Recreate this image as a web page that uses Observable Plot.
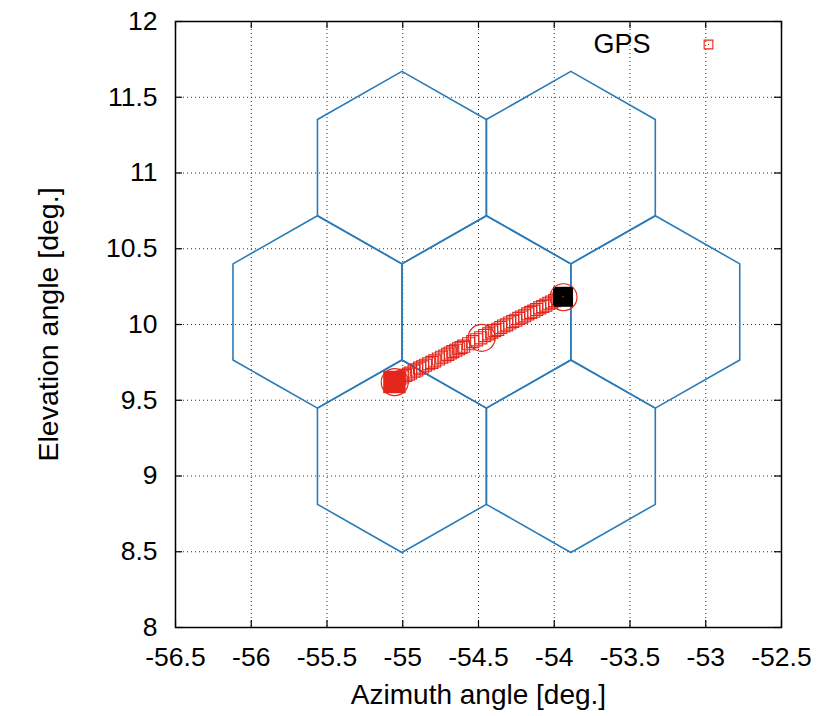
<!DOCTYPE html>
<html><head><meta charset="utf-8">
<script src="https://cdn.jsdelivr.net/npm/d3@7"></script>
<script src="https://cdn.jsdelivr.net/npm/@observablehq/plot@0.6"></script>
<style>body{margin:0;background:#fff} svg{display:block}</style>
</head><body><div id="chart"></div>
<script>
// ticks
const xTicks = [-56.5,-56,-55.5,-55,-54.5,-54,-53.5,-53,-52.5];
const yTicks = [8,8.5,9,9.5,10,10.5,11,11.5,12];

// hexagonal beam cells (centres, deg.)
const hexAz = [-54.448, -55.0055, -53.8905, -55.563, -53.333, -55.0055, -53.8905];
const hexEl = [10.083, 11.0355, 11.0355, 10.083, 10.083, 9.1305, 9.1305];
const hexHalfWidth = 0.5575;
const hexRadius = 0.635;

// GPS track
const gpsAz = [-55.040,-55.020,-55.000,-54.981,-54.962,-54.948,-54.925,-54.908,-54.889,-54.869,-54.850,-54.829,-54.808,-54.789,-54.765,-54.743,-54.722,-54.703,-54.686,-54.670,-54.650,-54.631,-54.615,-54.598,-54.565,-54.538,-54.512,-54.485,-54.459,-54.433,-54.413,-54.393,-54.373,-54.353,-54.334,-54.314,-54.294,-54.274,-54.254,-54.234,-54.215,-54.195,-54.175,-54.155,-54.135,-54.116,-54.096,-54.076,-54.056,-54.036,-54.017,-53.997,-53.975];
const gpsEl = [9.634,9.642,9.654,9.664,9.672,9.680,9.692,9.700,9.712,9.720,9.731,9.741,9.750,9.760,9.772,9.784,9.792,9.803,9.812,9.821,9.830,9.840,9.848,9.857,9.873,9.887,9.899,9.912,9.927,9.938,9.950,9.960,9.968,9.980,9.990,9.998,10.010,10.020,10.028,10.040,10.049,10.058,10.070,10.080,10.088,10.099,10.110,10.119,10.128,10.140,10.148,10.158,10.170];
const startAz = [-55.055], startEl = [9.620];
const endAz = [-53.942], endEl = [10.183];
const ringAz = [-55.053, -54.479, -53.939];
const ringEl = [9.619, 9.912, 10.180];

const legendLabel = ["GPS"];
const xLabel = ["Azimuth angle [deg.]"];
const yLabel = ["Elevation angle [deg.]"];

const red = "#e3261c", blue = "#2a7bb8";
const font = "'Liberation Sans', Arial, Helvetica, sans-serif";

// hex outlines built from centres
const vx = [0, 1, 1, 0, -1, -1, 0];
const vy = [1, 0.5, -0.5, -1, -0.5, 0.5, 1];
const hexPts = [];
hexAz.forEach((cx, i) => {
  vx.forEach((m, k) => hexPts.push({hex: i, x: cx + m * hexHalfWidth, y: hexEl[i] + vy[k] * hexRadius}));
});
const gps = gpsAz.map((x, i) => ({x, y: gpsEl[i]}));
const rings = ringAz.map((x, i) => ({x, y: ringEl[i]}));

const W = 840, H = 716, mL = 175, mR = 59, mT = 21, mB = 89;
const innerH = H - mT - mB, innerW = W - mL - mR, tk = 7;

const chart = Plot.plot({
  width: W, height: H,
  marginLeft: mL, marginRight: mR, marginTop: mT, marginBottom: mB,
  x: {domain: [-56.5, -52.5]},
  y: {domain: [8, 12]},
  style: {fontFamily: font, background: "#fff", color: "#000"},
  marks: [
    Plot.gridX(xTicks, {stroke: "#333", strokeOpacity: 1, strokeDasharray: "1,3", strokeWidth: 1}),
    Plot.gridY(yTicks, {stroke: "#333", strokeOpacity: 1, strokeDasharray: "1,3", strokeWidth: 1}),
    Plot.line(hexPts, {x: "x", y: "y", z: "hex", stroke: blue, strokeWidth: 1.6}),
    Plot.dot(gps, {x: "x", y: "y", symbol: "square", r: 6.8, stroke: red, strokeWidth: 1.1, fill: "none"}),
    Plot.dot(startAz.map((x,i)=>({x, y: startEl[i]})), {x: "x", y: "y", symbol: "square", r: 11.8, fill: red, stroke: red}),
    Plot.dot(endAz.map((x,i)=>({x, y: endEl[i]})), {x: "x", y: "y", symbol: "square", r: 11.3, fill: "#000"}),
    Plot.dot(endAz.map((x,i)=>({x, y: endEl[i]})), {x: "x", y: "y", r: 0.8, fill: red}),
    Plot.dot(rings, {x: "x", y: "y", r: 13.5, stroke: red, strokeWidth: 1.2, fill: "none"}),
    Plot.frame({stroke: "#000", strokeWidth: 1.5}),
    Plot.tickX(xTicks, {x: d => d, stroke: "#000", strokeWidth: 1.2, insetTop: innerH - tk}),
    Plot.tickX(xTicks, {x: d => d, stroke: "#000", strokeWidth: 1.2, insetBottom: innerH - tk}),
    Plot.tickY(yTicks, {y: d => d, stroke: "#000", strokeWidth: 1.2, insetRight: innerW - tk}),
    Plot.tickY(yTicks, {y: d => d, stroke: "#000", strokeWidth: 1.2, insetLeft: innerW - tk}),
    Plot.axisX(xTicks, {tickSize: 0, tickPadding: 20, tickFormat: d => String(d), fontSize: 26.5, label: null}),
    Plot.axisY(yTicks, {tickSize: 0, tickPadding: 18, tickFormat: d => String(d), fontSize: 26.5, label: null}),
    Plot.text(xLabel, {frameAnchor: "bottom", dy: 68, lineAnchor: "middle", textAnchor: "middle", fontSize: 28, fill: "#000"}),
    Plot.text(yLabel, {frameAnchor: "left", dx: -127, rotate: -90, textAnchor: "middle", lineAnchor: "middle", fontSize: 28.5, fill: "#000"}),
    Plot.text(legendLabel, {frameAnchor: "top-right", dx: -131, dy: 23, textAnchor: "end", lineAnchor: "middle", fontSize: 27, fill: "#000"}),
    Plot.dot(legendLabel, {frameAnchor: "top-right", dx: -73, dy: 23, symbol: "square", r: 4.9, stroke: red, strokeWidth: 1.1, fill: "none"}),
    Plot.dot(legendLabel, {frameAnchor: "top-right", dx: -73, dy: 23, r: 0.7, fill: red})
  ]
});
document.getElementById("chart").appendChild(chart);
</script>
</body></html>
